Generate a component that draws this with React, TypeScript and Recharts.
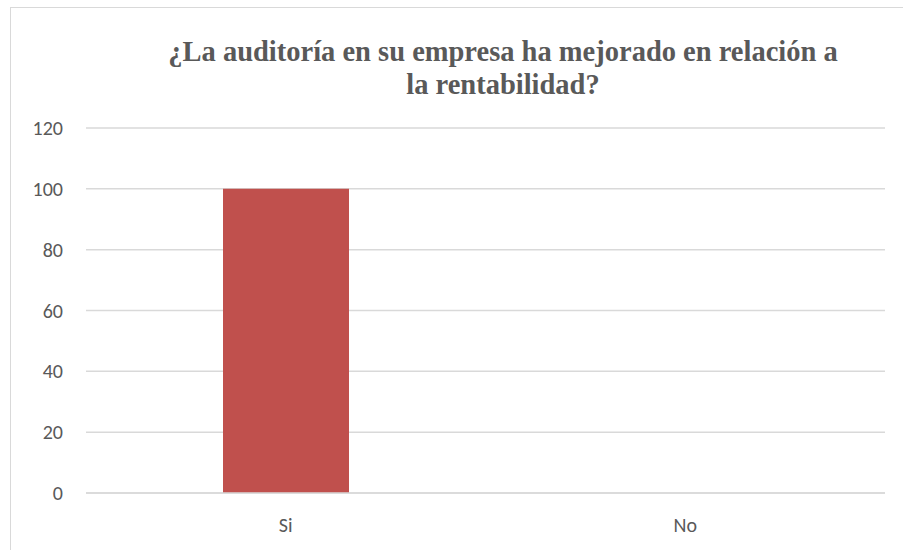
import React from "react";
import { BarChart, Bar, XAxis, YAxis, CartesianGrid } from "recharts";

const categories: string[] = ["Si", "No"];
const values: number[] = [100, 0];
const yTicks: number[] = [0, 20, 40, 60, 80, 100, 120];
const titleLines: string[] = [
  "¿La auditoría en su empresa ha mejorado en relación a",
  "la rentabilidad?",
];

const data = categories.map((c, i) => ({ name: c, value: values[i] }));

const TEXT = "#595959";
const GRID = "#d9d9d9";
const BAR = "#C0504D";
const tickFont = "Carlito, Calibri, 'Open Sans', sans-serif";
const titleFont = "'Times New Roman', 'Liberation Serif', 'DejaVu Serif', serif";

export default function App() {
  return (
    <div
      style={{
        position: "fixed",
        left: 0,
        top: 0,
        width: 903,
        height: 550,
        overflow: "hidden",
        background: "#ffffff",
      }}
    >
      <div
        style={{
          position: "absolute",
          left: 10,
          top: 7,
          width: 1000,
          height: 700,
          border: `1px solid ${GRID}`,
          boxSizing: "border-box",
        }}
      />
      <div
        style={{
          position: "absolute",
          left: 0,
          top: 0,
          width: 903,
          height: 550,
        }}
      >
        <BarChart
          width={903}
          height={550}
          data={data}
          margin={{ top: 128, right: 18, bottom: 27, left: 0 }}
        >
          <CartesianGrid vertical={false} stroke={GRID} strokeWidth={1.5} />
          <XAxis
            dataKey="name"
            height={30}
            axisLine={{ stroke: GRID, strokeWidth: 1.5 }}
            tickLine={false}
            tickMargin={19}
            tick={{ fill: TEXT, fontSize: 20, fontFamily: tickFont }}
          />
          <YAxis
            width={86}
            domain={[0, 120]}
            ticks={yTicks}
            axisLine={false}
            tickLine={false}
            tickMargin={17}
            tick={{ fill: TEXT, fontSize: 20, fontFamily: tickFont }}
          />
          <Bar dataKey="value" fill={BAR} barSize={126} isAnimationActive={false} />
        </BarChart>
      </div>
      <svg
        width={903}
        height={120}
        style={{ position: "absolute", left: 0, top: 0 }}
      >
        {titleLines.map((l, i) => (
          <text
            key={i}
            x={503}
            y={61 + i * 33}
            textAnchor="middle"
            fill={TEXT}
            fontFamily={titleFont}
            fontWeight="bold"
            fontSize={28.5}
          >
            {l}
          </text>
        ))}
      </svg>
    </div>
  );
}
